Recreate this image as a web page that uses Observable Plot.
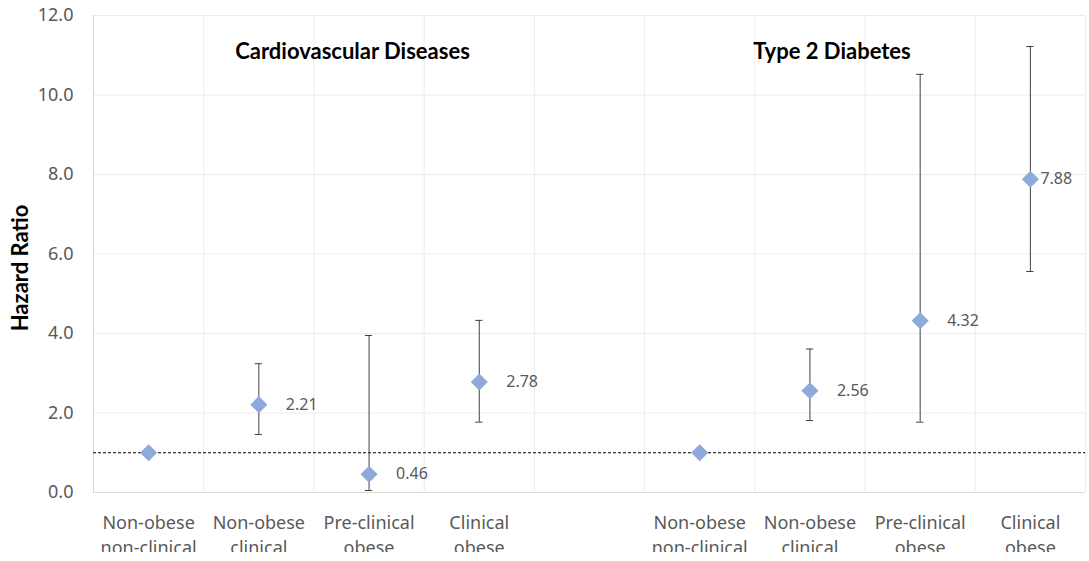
<!DOCTYPE html>
<html>
<head>
<meta charset="utf-8">
<script src="https://cdn.jsdelivr.net/npm/d3@7"></script>
<script src="https://cdn.jsdelivr.net/npm/@observablehq/plot@0.6"></script>
<style>
  html, body { margin: 0; padding: 0; background: #fff; }
  #chart { width: 1089px; height: 561px; overflow: hidden; }
</style>
</head>
<body>
<div id="chart"></div>
<script>
const groups = ["Cardiovascular Diseases", "Type 2 Diabetes"];
const categories = ["Non-obese\nnon-clinical", "Non-obese\nclinical", "Pre-clinical\nobese", "Clinical\nobese"];
const cvdHR = [1.00, 2.21, 0.46, 2.78];
const cvdLo = [null, 1.46, 0.05, 1.77];
const cvdHi = [null, 3.24, 3.95, 4.33];
const t2dHR = [1.00, 2.56, 4.32, 7.88];
const t2dLo = [null, 1.81, 1.77, 5.56];
const t2dHi = [null, 3.61, 10.52, 11.22];
const yTicks = [0, 2, 4, 6, 8, 10, 12];
const referenceHR = 1;

// slot positions on a linear x scale: group 0 -> 1..4, group 1 -> 6..9
const series = [
  {group: groups[0], hr: cvdHR, lo: cvdLo, hi: cvdHi, offset: 1},
  {group: groups[1], hr: t2dHR, lo: t2dLo, hi: t2dHi, offset: 6}
];
const rows = series.flatMap(s => categories.map((c, i) => ({
  group: s.group, cat: c, x: s.offset + i, hr: s.hr[i], lo: s.lo[i], hi: s.hi[i]
})));
const bars = rows.filter(d => d.lo != null);
const tickPos = rows.map(d => d.x);
const tickLabel = new Map(rows.map(d => [d.x, d.cat]));
const lastX = d3.max(rows, d => d.x);

const capHalf = 0.033;
const regFont = "'Noto Sans', 'Open Sans', sans-serif";
const boldFont = "Lato, 'Noto Sans', sans-serif";

const plot = Plot.plot({
  width: 1089,
  height: 552,
  marginLeft: 93,
  marginRight: 4,
  marginTop: 15,
  marginBottom: 60,
  style: {fontFamily: regFont, background: "#fff", overflow: "hidden"},
  x: {type: "linear", domain: [0.5, 9.5]},
  y: {domain: [0, 12]},
  marks: [
    Plot.ruleY(yTicks.filter(d => d > 0), {stroke: "#ececec", strokeWidth: 1}),
    Plot.ruleX(d3.range(1.5, 10, 1), {stroke: "#ececec", strokeWidth: 1}),
    Plot.ruleX([0.5], {stroke: "#d9d9d9", strokeWidth: 1}),
    Plot.ruleY([0], {stroke: "#d9d9d9", strokeWidth: 1}),
    Plot.axisY({ticks: yTicks, tickFormat: d3.format(".1f"), tickSize: 0, tickPadding: 20,
      fontSize: 18, fill: "#595959", label: null}),
    Plot.axisX(tickPos, {tickFormat: d => tickLabel.get(d), tickSize: 0, tickPadding: 19,
      fontSize: 18, fill: "#595959", lineHeight: 1.38, label: null}),
    Plot.ruleY([referenceHR], {stroke: "#000", strokeWidth: 1, strokeDasharray: "3,2"}),
    // error bars
    Plot.ruleX(bars, {x: "x", y1: "lo", y2: "hi", stroke: "#404040", strokeWidth: 1}),
    Plot.ruleY(bars, {y: "hi", x1: d => d.x - capHalf, x2: d => d.x + capHalf, stroke: "#404040", strokeWidth: 1}),
    Plot.ruleY(bars, {y: "lo", x1: d => d.x - capHalf, x2: d => d.x + capHalf, stroke: "#404040", strokeWidth: 1}),
    // points
    Plot.dot(rows, {x: "x", y: "hr", symbol: "diamond2", r: 7.7, fill: "#8eaadb", stroke: "none"}),
    // value labels
    Plot.text(bars.filter(d => d.x !== lastX), {x: "x", y: "hr", text: d => d.hr.toFixed(2), dx: 27,
      textAnchor: "start", fontSize: 16, fill: "#595959"}),
    Plot.text(bars.filter(d => d.x === lastX), {x: "x", y: "hr", text: d => d.hr.toFixed(2), dx: 10,
      textAnchor: "start", fontSize: 16, fill: "#595959"}),
    // group titles
    Plot.text(groups, {x: [2.85, 7.2], y: [11.09, 11.09], text: d => d, fontSize: 22,
      fontWeight: "bold", fontFamily: boldFont, fill: "#000"}),
    // y label
    Plot.text(["Hazard Ratio"], {frameAnchor: "left", textAnchor: "middle", dx: -73, dy: 14, rotate: -90,
      fontSize: 22, fontWeight: "bold", fontFamily: boldFont, fill: "#000"})
  ]
});
document.getElementById("chart").appendChild(plot);
</script>
</body>
</html>
